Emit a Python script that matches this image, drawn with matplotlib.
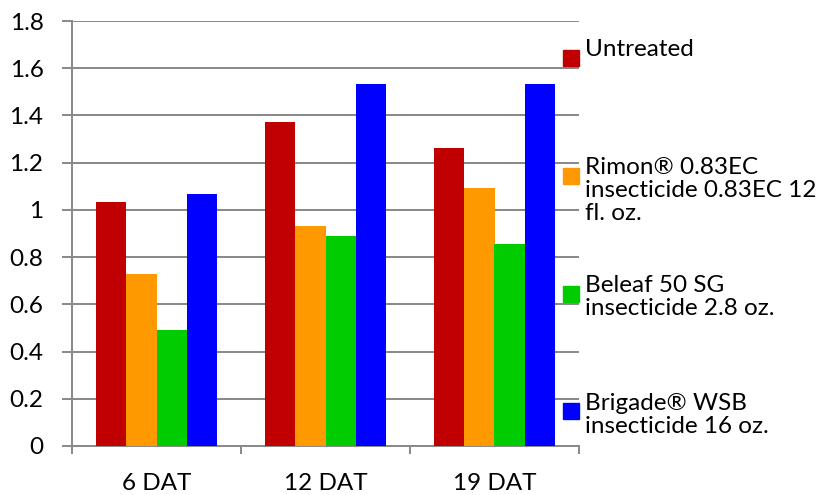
import matplotlib
matplotlib.use("Agg")
import matplotlib.pyplot as plt
from matplotlib.patches import Rectangle
from matplotlib.ticker import FuncFormatter

plt.rcParams["font.family"] = ["Lato", "DejaVu Sans"]

categories = ["6 DAT", "12 DAT", "19 DAT"]
series_names = [
    "Untreated",
    "Rimon\u00ae 0.83EC\ninsecticide 0.83EC 12\nfl. oz.",
    "Beleaf 50 SG\ninsecticide 2.8 oz.",
    "Brigade\u00ae WSB\ninsecticide 16 oz.",
]
series_colors = ["#C00000", "#FF9900", "#00CC00", "#0000FF"]
untreated = [1.033, 1.372, 1.262]
rimon = [0.728, 0.932, 1.093]
beleaf = [0.491, 0.889, 0.856]
brigade = [1.067, 1.533, 1.533]
y_ticks = [0, 0.2, 0.4, 0.6, 0.8, 1.0, 1.2, 1.4, 1.6, 1.8]

series_values = [untreated, rimon, beleaf, brigade]

fig = plt.figure(figsize=(8.25, 4.95), dpi=100)
ax = fig.add_axes([72 / 825, 49 / 495, 507 / 825, 425 / 495])

grey = "#888888"
fs = 17.5
width = 0.18
for i, (vals, col) in enumerate(zip(series_values, series_colors)):
    xs = [c + (i - 1.5) * width for c in range(len(categories))]
    ax.bar(xs, vals, width=width, color=col, zorder=3)

ax.set_xlim(-0.5, len(categories) - 0.5)
ax.set_ylim(0, 1.8)
ax.set_yticks(y_ticks)
ax.yaxis.set_major_formatter(FuncFormatter(lambda v, p: f"{v:g}"))
ax.grid(axis="y", color=grey, linewidth=1.4, zorder=0)
ax.set_axisbelow(True)

# category boundaries get the tick marks, centres get the labels
ax.set_xticks([c - 0.5 for c in range(len(categories) + 1)])
ax.set_xticklabels([])
ax.set_xticks(range(len(categories)), minor=True)
ax.set_xticklabels(categories, minor=True)
ax.tick_params(axis="x", which="major", length=5.5, width=1.4, color=grey, direction="out")
ax.tick_params(axis="x", which="minor", length=0, pad=19.5, labelsize=fs)
ax.tick_params(axis="y", length=7.5, width=1.4, color=grey, pad=13, labelsize=fs)

for side in ["top", "right"]:
    ax.spines[side].set_visible(False)
for side in ["left", "bottom"]:
    ax.spines[side].set_color(grey)
    ax.spines[side].set_linewidth(1.4)

# legend drawn by hand so the markers sit where Excel put them
entry_tops = [41, 159, 277, 395]
marker_tops = [50, 168, 286, 403]
for name, col, ty, my in zip(series_names, series_colors, entry_tops, marker_tops):
    fig.add_artist(Rectangle((563 / 825, 1 - (my + 16) / 495), 16 / 825, 16 / 495,
                             transform=fig.transFigure, color=col, zorder=5))
    fig.text(585 / 825, 1 - (ty - 2) / 495, name, fontsize=fs, va="top", ha="left",
             linespacing=1.13, zorder=6)

fig.savefig("out.png", dpi=100)
